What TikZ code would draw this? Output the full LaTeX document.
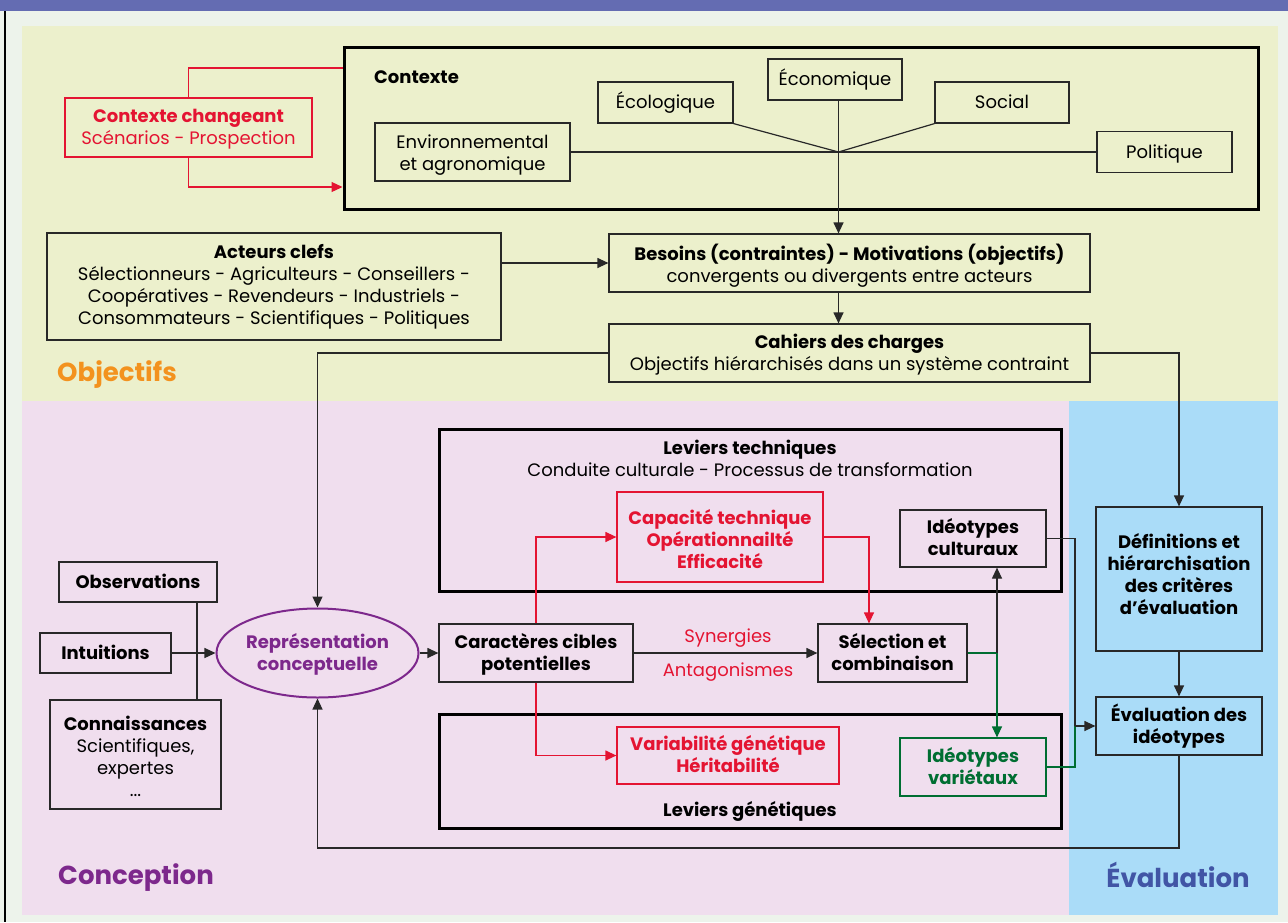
\documentclass[tikz,border=0pt]{standalone}
\usepackage{fontspec}
\setmainfont{Poppins}
\usetikzlibrary{shapes.geometric,arrows.meta,calc}
\definecolor{band}{RGB}{100,108,178}
\definecolor{bgc}{RGB}{237,243,235}
\definecolor{yel}{RGB}{236,240,204}
\definecolor{pnk}{RGB}{240,222,238}
\definecolor{blu}{RGB}{170,220,248}
\definecolor{rd}{RGB}{228,20,50}
\definecolor{pur}{RGB}{125,40,140}
\definecolor{grn}{RGB}{0,110,50}
\definecolor{org}{RGB}{243,146,30}
\definecolor{evb}{RGB}{65,85,165}
\definecolor{dk}{RGB}{40,40,40}
\newcommand{\bodyfont}{\fontsize{18}{22}\selectfont}
\newcommand{\boldfont}{\fontsize{18}{22}\selectfont\bfseries}
\tikzset{
  tx/.style={text height=#1,text depth=3pt},
  tx/.default=15pt,
  box/.style={draw=dk,line width=1.2pt,rectangle,inner sep=0pt,align=center,text=black,font=\bodyfont},
  thick box/.style={draw=black,line width=3pt,rectangle,inner sep=0pt},
  redbox/.style={box,draw=rd,text=rd},
  grnbox/.style={box,draw=grn,text=grn},
  conn/.style={draw=dk,line width=1.2pt},
  arr/.style={conn,-{Triangle[length=11pt,width=10pt]}},
  rconn/.style={draw=rd,line width=1.2pt},
  rarr/.style={rconn,-{Triangle[length=11pt,width=10pt]}},
  gconn/.style={draw=grn,line width=1.2pt},
  garr/.style={gconn,-{Triangle[length=11pt,width=10pt]}},
  lbl/.style={inner sep=0pt,align=center,font=\bodyfont},
  big/.style={inner sep=0pt,font=\fontsize{26}{30}\selectfont\bfseries,text height=20pt,text depth=2.8pt},
}
\begin{document}
\begin{tikzpicture}[x=1pt,y=-1pt]
\useasboundingbox (0,0) rectangle (1288,922);
% backgrounds
\fill[bgc] (0,0) rectangle (1288,922);
\fill[band] (0,0) rectangle (1288,11);
\draw[black,line width=1.2pt] (5,11) -- (5,922);
\fill[yel] (22,26) rectangle (1278,401);
\fill[pnk] (22,401) rectangle (1069,915);
\fill[blu] (1069,401) rectangle (1278,915);

% region labels
\node[big,anchor=west,text=org] (lobj) at (57,373) {Objectifs};
\node[big,anchor=west,text=pur] (lcon) at (58,876) {Conception};
\node[big,text=evb] (leva) at (1178,879) {Évaluation};

% Contexte
\node[thick box,minimum width=914,minimum height=162] (ctx) at (801,128) {};
\node[lbl,tx,anchor=west,font=\boldfont] (ctxl) at (374,77) {Contexte};
\node[redbox,tx=37pt,minimum width=247,minimum height=59] (ctxch) at (188.5,127.5) {\textbf{Contexte changeant}\\Scénarios - Prospection};
\node[box,tx=39pt,minimum width=195,minimum height=58] (env) at (472.5,152) {Environnemental\\et agronomique};
\node[box,tx,minimum width=135,minimum height=41] (eco) at (665.5,102.5) {Écologique};
\node[box,tx,minimum width=134,minimum height=41] (econ) at (835,79.5) {Économique};
\node[box,tx,minimum width=134,minimum height=41] (soc) at (1002,102.5) {Social};
\node[box,tx,minimum width=135,minimum height=41] (pol) at (1164.5,152) {Politique};
\coordinate (hub) at (838.5,152);
\draw[conn] (env.east) -- (hub) -- (pol.west);
\draw[conn] (eco.south east) -- (hub) -- (soc.south west);
\draw[conn] (hub |- econ.south) -- (hub);

\draw[rconn] (ctxch.north) |- (ctx.west |- 0,68);
\draw[rarr] (ctxch.south) |- (ctx.west |- 0,187);

% Objectifs chain
\node[box,tx=79pt,minimum width=454,minimum height=107] (act) at (274,286.5) {\textbf{Acteurs clefs}\\Sélectionneurs - Agriculteurs - Conseillers -\\Coopératives - Revendeurs - Industriels -\\Consommateurs - Scientifiques - Politiques};
\node[box,tx=41pt,minimum width=481,minimum height=58] (bes) at (849.5,263) {\textbf{Besoins (contraintes) - Motivations (objectifs)}\\convergents ou divergents entre acteurs};
\node[box,tx=37pt,minimum width=481,minimum height=58] (cah) at (849.5,353) {\textbf{Cahiers des charges}\\Objectifs hiérarchisés dans un système contraint};
\draw[arr] (hub) -- (hub |- bes.north);
\draw[arr] (act.east |- bes.west) -- (bes.west);
\draw[arr] (hub |- bes.south) -- (hub |- cah.north);

% Conception
\node[thick box,minimum width=622,minimum height=162] (lt) at (750,510) {};
\node[lbl,tx=37pt] (ltl) at (750,459) {\textbf{Leviers techniques}\\Conduite culturale - Processus de transformation};
\node[thick box,minimum width=622,minimum height=114] (lg) at (750,771) {};
\node[lbl,tx,font=\boldfont] (lgl) at (750,810) {Leviers génétiques};

\node[redbox,tx=65pt,minimum width=206,minimum height=90,font=\boldfont] (cap) at (720,537) {Capacité technique\\Opérationnailté\\Efficacité};
\node[redbox,tx=37pt,minimum width=222,minimum height=57,font=\boldfont] (var) at (728,755.5) {Variabilité génétique\\Héritabilité};
\node[box,tx=37pt,minimum width=146,minimum height=57,font=\boldfont] (ic) at (973,538.5) {Idéotypes\\culturaux};
\node[grnbox,tx=37pt,minimum width=146,minimum height=58,font=\boldfont] (iv) at (973,767) {Idéotypes\\variétaux};
\node[box,tx=37pt,minimum width=194,minimum height=58,font=\boldfont] (car) at (536,653) {Caractères cibles\\potentielles};
\node[box,tx=37pt,minimum width=149,minimum height=58,font=\boldfont] (sel) at (892.5,653) {Sélection et\\combinaison};
\node[lbl,tx,text=rd] (syn) at (728,636) {Synergies};
\node[lbl,tx,text=rd] (ant) at (728,670) {Antagonismes};

\node[draw=pur,line width=2pt,ellipse,tx=37pt,minimum width=179,minimum height=89,inner sep=0pt,align=center,text=pur,font=\boldfont] (rep) at (317.5,653) {Représentation\\conceptuelle};

\node[box,tx,minimum width=158,minimum height=40,font=\boldfont] (obs) at (138,582) {Observations};
\node[box,tx,minimum width=131,minimum height=40,font=\boldfont] (int) at (105.5,653) {Intuitions};
\node[box,tx=87pt,minimum width=171,minimum height=109] (con) at (135.5,754.5) {\textbf{Connaissances}\\Scientifiques,\\expertes\\...};

\draw[conn] ([xshift=59]obs.south) -- ([xshift=61.5]con.north);
\draw[arr] (int.east) -- (rep.west);
\draw[arr] (rep.east) -- (car.west);
\draw[arr] (cah.west) -| (rep.north);

\draw[arr] (car.east) -- (sel.west);
\draw[rarr] (car.north) |- (cap.west);
\draw[rarr] (car.south) |- (var.west);
\draw[rarr] (cap.east) -| ([xshift=-23.5]sel.north);
\coordinate (j) at (997,653);
\draw[gconn] (sel.east) -- (j);
\draw[arr] (j) -- (j |- ic.south);
\draw[garr] (j) -- (j |- iv.north);

% Evaluation
\node[box,tx=73pt,minimum width=166,minimum height=144,font=\boldfont] (def) at (1179,579) {Définitions et\\hiérarchisation\\des critères\\d’évaluation};
\node[box,tx=37pt,minimum width=166,minimum height=58,font=\boldfont] (evbx) at (1179,726) {Évaluation des\\idéotypes};
\draw[arr] (cah.east) -| (def.north);
\draw[arr] (def.south) -- (evbx.north);
\coordinate (k) at (1075,726);
\draw[conn] (ic.east) -| (k);
\draw[gconn] (iv.east) -| (k);
\draw[arr] (k) -- (evbx.west);
\coordinate (lp) at (1179,848);
\draw[arr] (evbx.south) -- (lp) -| (rep.south);
\end{tikzpicture}
\end{document}
